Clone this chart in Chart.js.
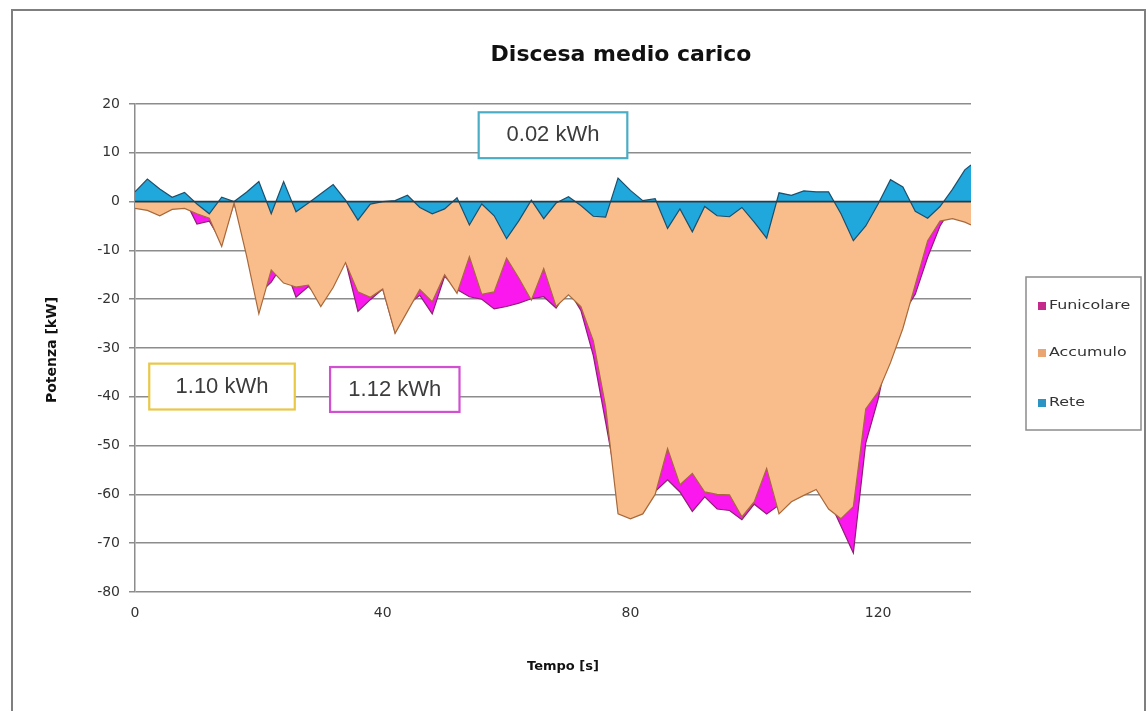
<!DOCTYPE html>
<html>
<head>
<meta charset="utf-8">
<title>Discesa medio carico</title>
<script src="https://cdn.jsdelivr.net/npm/chart.js@4.4.1/dist/chart.umd.min.js"></script>
<style>
  html, body { margin: 0; padding: 0; background: #fff; }
  #wrap { width: 1147px; height: 711px; }
</style>
</head>
<body>
<div id="wrap"><canvas id="areaChart" width="1147" height="711"></canvas></div>
<script>
// tempo [s]
const tempo = [0, 2, 4, 6, 8, 10, 12, 14, 16, 18, 20, 22, 24, 26, 28, 30, 32, 34, 36, 38,
    40, 42, 44, 46, 48, 50, 52, 54, 56, 58, 60, 62, 64, 66, 68, 70, 72, 74, 76, 78,
    80, 82, 84, 86, 88, 90, 92, 94, 96, 98, 100, 102, 104, 106, 108, 110, 112, 114, 116, 118,
    120, 122, 124, 126, 128, 130, 132, 134, 135];

// potenza [kW]
const funicolare = [0.6, 2.8, -0.3, -0.7, 0.5, -4.6, -4.0, -8.3, -0.3, -9.1, -18.9, -16.5, -12.6, -19.6, -17.4, -19.9, -14.1, -12.2, -22.5, -20.1,
    -17.9, -26.8, -21.2, -19.2, -23.0, -15.3, -18.0, -19.5, -20.0, -22.0, -21.5, -20.8, -19.9, -19.5, -21.8, -18.1, -22.3, -31.5, -45.2, -59.2,
    -62.7, -63.8, -59.4, -57.0, -59.5, -63.5, -60.5, -63.0, -63.3, -65.2, -62.0, -64.0, -62.2, -60.2, -58.0, -57.0, -61.0, -66.5, -72.0, -49.5,
    -40.5, -28.5, -23.0, -19.0, -11.4, -5.0, -1.0, 2.3, 2.7];

const accumulo = [-1.4, -1.8, -2.9, -1.6, -1.4, -2.5, -3.4, -9.2, -0.3, -11.0, -23.0, -14.0, -16.7, -17.5, -17.1, -21.5, -17.6, -12.5, -18.5, -19.6,
    -17.9, -27.0, -22.5, -18.0, -20.5, -15.0, -18.8, -11.3, -19.0, -18.5, -11.6, -15.7, -20.2, -13.7, -21.5, -19.1, -21.5, -28.5, -42.0, -64.0,
    -65.0, -64.0, -60.0, -50.6, -58.0, -55.7, -59.5, -60.0, -60.1, -64.6, -61.5, -54.7, -64.0, -61.5, -60.2, -59.0, -63.0, -65.0, -62.5, -42.5,
    -39.0, -33.0, -26.0, -17.0, -8.0, -4.0, -3.5, -4.2, -4.8];

const rete = [2.0, 4.6, 2.6, 0.9, 1.9, -0.5, -2.5, 0.9, 0.0, 1.9, 4.1, -2.5, 4.1, -2.1, -0.3, 1.6, 3.5, 0.3, -3.8, -0.5,
    0.0, 0.2, 1.3, -1.2, -2.5, -1.5, 0.8, -4.8, -0.5, -2.9, -7.6, -3.9, 0.3, -3.5, -0.3, 1.0, -0.8, -3.0, -3.2, 4.8,
    2.3, 0.2, 0.6, -5.5, -1.5, -6.2, -1.0, -2.9, -3.1, -1.2, -4.2, -7.5, 1.8, 1.3, 2.2, 2.0, 2.0, -2.5, -8.0, -5.0,
    -0.5, 4.5, 3.0, -2.0, -3.4, -1.0, 2.5, 6.5, 7.5];

const serieNomi = ['Funicolare', 'Accumulo', 'Rete'];
const yTicks = [-80, -70, -60, -50, -40, -30, -20, -10, 0, 10, 20];
const xTicks = [0, 40, 80, 120];

// energy boxes (text, corners in data units)
const energie = [
    { text: '0.02 kWh', x0: 55.5, x1: 79.5, y0: 18.3, y1: 8.9, color: '#4bacc6' },
    { text: '1.10 kWh', x0: 2.3, x1: 25.8, y0: -33.2, y1: -42.6, color: '#e8c846' },
    { text: '1.12 kWh', x0: 31.5, x1: 52.4, y0: -33.9, y1: -43.1, color: '#d24fd2' }
];

const colori = {
    Funicolare: { fill: '#fb18ee', line: '#8e1f72', key: '#c42a8a' },
    Accumulo: { fill: '#f9bd8b', line: '#a8693a', key: '#eaa672' },
    Rete: { fill: '#20a8dd', line: '#1d4f6c', key: '#2b94c4' }
};

const toPoints = values => tempo.map((t, i) => ({ x: t, y: values[i] }));

function makeDataset(name, values, order) {
    return {
        label: name,
        data: toPoints(values),
        backgroundColor: colori[name].fill,
        borderColor: colori[name].line,
        borderWidth: 1.2,
        fill: 'origin',
        pointRadius: 0,
        tension: 0,
        order: order
    };
}

const decor = {
    id: 'decor',
    beforeDraw(chart) {
        const ctx = chart.ctx;
        ctx.save();
        ctx.fillStyle = '#ffffff';
        ctx.fillRect(0, 0, chart.width, chart.height);
        ctx.strokeStyle = '#7f7f7f';
        ctx.lineWidth = 2;
        ctx.strokeRect(12, 10, 1133, 730);
        ctx.restore();
    },
    afterDatasetsDraw(chart) {
        const { ctx, chartArea, scales: { x, y } } = chart;
        ctx.save();
        // horizontal axis crossing at 0
        const y0 = y.getPixelForValue(0);
        ctx.strokeStyle = '#2c3a44';
        ctx.lineWidth = 1.6;
        ctx.beginPath();
        ctx.moveTo(chartArea.left, y0);
        ctx.lineTo(chartArea.right, y0);
        ctx.stroke();

        // energy boxes
        energie.forEach(b => {
            const left = x.getPixelForValue(b.x0);
            const right = x.getPixelForValue(b.x1);
            const top = y.getPixelForValue(b.y0);
            const bottom = y.getPixelForValue(b.y1);
            ctx.fillStyle = '#ffffff';
            ctx.fillRect(left, top, right - left, bottom - top);
            ctx.strokeStyle = b.color;
            ctx.lineWidth = 2.2;
            ctx.strokeRect(left, top, right - left, bottom - top);
            ctx.fillStyle = '#3c3c3c';
            ctx.font = '22px "Liberation Sans"';
            ctx.textAlign = 'center';
            ctx.textBaseline = 'middle';
            ctx.fillText(b.text, (left + right) / 2, (top + bottom) / 2);
        });
        ctx.restore();
    },
    afterDraw(chart) {
        const ctx = chart.ctx;
        ctx.save();
        ctx.fillStyle = '#111111';
        ctx.textAlign = 'center';
        ctx.textBaseline = 'middle';
        ctx.font = 'bold 22px "DejaVu Sans"';
        ctx.fillText('Discesa medio carico', 621, 55);

        ctx.font = 'bold 13px "DejaVu Sans"';
        ctx.fillText('Tempo [s]', 563, 667);

        ctx.save();
        ctx.translate(52, 350);
        ctx.rotate(-Math.PI / 2);
        ctx.font = 'bold 14px "DejaVu Sans"';
        ctx.fillText('Potenza [kW]', 0, 0);
        ctx.restore();

        // legend
        ctx.fillStyle = '#ffffff';
        ctx.fillRect(1026, 277, 115, 153);
        ctx.strokeStyle = '#8c8c8c';
        ctx.lineWidth = 1.5;
        ctx.strokeRect(1026, 277, 115, 153);
        const rows = [306, 353, 403];
        serieNomi.forEach((name, i) => {
            ctx.fillStyle = colori[name].key;
            ctx.fillRect(1038, rows[i] - 4, 8, 8);
            ctx.save();
            ctx.translate(1049, rows[i]);
            ctx.scale(1.22, 1);
            ctx.fillStyle = '#333333';
            ctx.textAlign = 'left';
            ctx.font = '13px "DejaVu Sans"';
            ctx.fillText(name, 0, 0);
            ctx.restore();
        });
        ctx.restore();
    }
};

Chart.defaults.font.family = '"DejaVu Sans", sans-serif';
Chart.defaults.color = '#333333';

const config = {
    type: 'line',
    data: {
        datasets: [
            makeDataset('Funicolare', funicolare, 3),
            makeDataset('Accumulo', accumulo, 2),
            makeDataset('Rete', rete, 1)
        ]
    },
    options: {
        responsive: false,
        animation: false,
        layout: { padding: { top: 104, right: 176, left: 0, bottom: 0 } },
        plugins: {
            legend: { display: false },
            title: { display: false },
            tooltip: { enabled: false }
        },
        scales: {
            x: {
                type: 'linear',
                min: 0,
                max: 135,
                afterFit: scale => { scale.height = 119; },
                afterBuildTicks: scale => { scale.ticks = xTicks.map(v => ({ value: v })); },
                grid: { display: false, drawTicks: false },
                border: { display: false },
                ticks: { font: { size: 14 }, padding: 13, maxRotation: 0 }
            },
            y: {
                min: -80,
                max: 20,
                afterFit: scale => { scale.width = 135; },
                afterBuildTicks: scale => { scale.ticks = yTicks.map(v => ({ value: v })); },
                grid: { color: '#8c8c8c', lineWidth: 1.5, tickLength: 6 },
                border: { display: true, color: '#8c8c8c', width: 1.5 },
                ticks: { font: { size: 14 }, padding: 9 }
            }
        }
    },
    plugins: [decor]
};

const areaChart = new Chart(document.getElementById('areaChart'), config);
</script>
</body>
</html>
